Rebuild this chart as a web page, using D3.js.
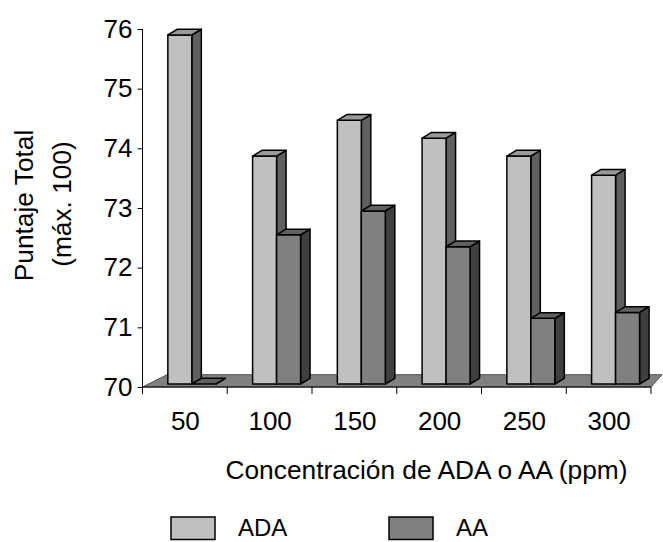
<!DOCTYPE html>
<html>
<head>
<meta charset="utf-8">
<script src="https://cdn.jsdelivr.net/npm/d3@7"></script>
<style>
  html, body { margin: 0; padding: 0; background: #fff; }
  svg { display: block; font-family: Arial, "Liberation Sans", sans-serif; }
</style>
</head>
<body>
<svg id="chart" width="663" height="542"></svg>
<script>
// Concentrations (ppm) and total scores for each additive
const categories = ["50", "100", "150", "200", "250", "300"];
const adaValues = [75.85, 73.82, 74.42, 74.12, 73.82, 73.50];
const aaValues  = [70.00, 72.50, 72.90, 72.30, 71.10, 71.20];
const yTicks = [70, 71, 72, 73, 74, 75, 76];
const seriesNames = ["ADA", "AA"];

const svg = d3.select("#chart");

const plotLeft = 142.5, plotRight = 651, plotBottom = 387, plotTop = 29;
const x = d3.scaleBand().domain(categories).range([plotLeft, plotRight]);
const y = d3.scaleLinear().domain([70, 76]).range([plotBottom, plotTop]);

// oblique depth offsets for the 3D look
const dx = 9.5, dy = 5.7;
const barLift = 3;           // bars stand slightly behind the floor's front edge
const yBar = v => y(v) - barLift;

const styles = [
  { front: "#c0c0c0", top: "#999999", side: "#5f5f5f" },
  { front: "#808080", top: "#606060", side: "#3f3f3f" }
];

// floor
svg.append("polygon")
  .attr("points", [[plotLeft, plotBottom], [plotLeft + 24.7, plotBottom - 12.3], [plotRight + 11, plotBottom - 12.3], [plotRight, plotBottom]].join(" "))
  .attr("fill", "#808080")
  .attr("stroke", "#505050")
  .attr("stroke-width", 1);

// bars
const bw = x.bandwidth();
const barW = bw * 0.283;
const offset = bw * 0.299;

categories.forEach((c, i) => {
  [adaValues[i], aaValues[i]].forEach((v, s) => {
    const x0 = x(c) + offset + s * barW;
    const x1 = x0 + barW;
    const yt = yBar(v);
    const yb = yBar(70);
    const g = svg.append("g")
      .attr("stroke", "#000")
      .attr("stroke-width", 1.5)
      .attr("stroke-linejoin", "round");
    // side face
    g.append("polygon")
      .attr("points", [[x1, yt], [x1 + dx, yt - dy], [x1 + dx, yb - dy], [x1, yb]].join(" "))
      .attr("fill", styles[s].side);
    // front face
    if (yb - yt > 0) {
      g.append("rect")
        .attr("x", x0).attr("y", yt)
        .attr("width", barW).attr("height", yb - yt)
        .attr("fill", styles[s].front);
    }
    // top face
    g.append("polygon")
      .attr("points", [[x0, yt], [x0 + dx, yt - dy], [x1 + dx, yt - dy], [x1, yt]].join(" "))
      .attr("fill", styles[s].top);
  });
});

// y axis
const yAxis = d3.axisLeft(y).tickValues(yTicks).tickSize(5).tickPadding(5).tickFormat(d3.format("d"));
const gy = svg.append("g").attr("transform", `translate(${plotLeft},0)`).call(yAxis);
gy.select(".domain").attr("stroke", "#000").attr("d", `M0,${plotTop}V${plotBottom}`);
gy.selectAll(".tick line").attr("stroke", "#000");
gy.selectAll(".tick text")
  .attr("font-size", 26).attr("fill", "#000")
  .attr("font-family", "Arial, 'Liberation Sans', sans-serif");

// x axis: ticks between categories
const bounds = categories.map(c => x(c)).concat([plotRight]);
const gx = svg.append("g");
gx.append("line")
  .attr("x1", plotLeft).attr("x2", plotRight).attr("y1", plotBottom).attr("y2", plotBottom)
  .attr("stroke", "#000");
gx.selectAll("line.tk").data(bounds).join("line")
  .attr("class", "tk")
  .attr("x1", d => d).attr("x2", d => d)
  .attr("y1", plotBottom).attr("y2", plotBottom + 7)
  .attr("stroke", "#000");
gx.selectAll("text").data(categories).join("text")
  .attr("x", d => x(d) + bw / 2 + 0.5)
  .attr("y", 429.5)
  .attr("text-anchor", "middle")
  .attr("font-size", 26)
  .text(d => d);

// axis titles
svg.append("text")
  .attr("x", 426.5).attr("y", 478.5)
  .attr("text-anchor", "middle")
  .attr("font-size", 26.3)
  .text("Concentración de ADA o AA (ppm)");

svg.append("text")
  .attr("transform", "translate(33,205.5) rotate(-90)")
  .attr("text-anchor", "middle")
  .attr("font-size", 26.3)
  .text("Puntaje Total");
svg.append("text")
  .attr("transform", "translate(71,204) rotate(-90)")
  .attr("text-anchor", "middle")
  .attr("font-size", 26.3)
  .text("(máx. 100)");

// legend
const legendX = [171, 389];
seriesNames.forEach((n, i) => {
  svg.append("rect")
    .attr("x", legendX[i]).attr("y", 517)
    .attr("width", 44).attr("height", 22.5)
    .attr("fill", styles[i].front)
    .attr("stroke", "#000").attr("stroke-width", 1.5);
  svg.append("text")
    .attr("x", legendX[i] + 67).attr("y", 536)
    .attr("font-size", 24)
    .text(n);
});
</script>
</body>
</html>
